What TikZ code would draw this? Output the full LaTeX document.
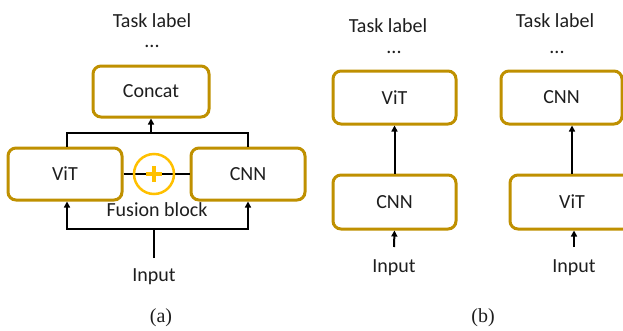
\documentclass[tikz,border=0pt]{standalone}
\usepackage{fontspec}
\newfontfamily\carl{Carlito}
\newfontfamily\capfont{Liberation Serif}
\usetikzlibrary{arrows.meta,calc}
\definecolor{gold}{RGB}{191,144,0}
\definecolor{ylw}{RGB}{255,192,0}
\definecolor{txt}{RGB}{30,30,30}
\begin{document}
\begin{tikzpicture}[x=1pt,y=-1pt,
  blk/.style={draw=gold,line width=3pt,rounded corners=8pt,fill=white,
    inner sep=0pt,text=txt,font=\carl\fontsize{20}{24}\selectfont},
  lbl/.style={anchor=base,inner sep=0pt,text=txt,font=\carl\fontsize{20}{24}\selectfont},
  subcap/.style={inner sep=0pt,text=txt,font=\capfont\fontsize{20}{24}\selectfont},
  conn/.style={line width=2pt,black},
  arr/.style={conn,-{Triangle[length=6pt,width=6pt]}}]
\useasboundingbox (0,0) rectangle (623,330);
\clip (0,0) rectangle (623,330);
% ---------- (a) ----------
\node[lbl] (taskA) at (152,27) {Task label};
\node[lbl] (dotsA) at (152,47) {...};
\node[blk,minimum width=116pt,minimum height=51pt] (concat) at (151,91.5) {Concat};
\node[blk,minimum width=114pt,minimum height=52pt] (vitA) at (65,174) {ViT};
\node[blk,minimum width=114pt,minimum height=52pt] (cnnA) at (248,174) {CNN};
\draw[conn] (vitA.east) -- (cnnA.west);
\node[circle,draw=ylw,line width=2.5pt,minimum size=40pt,inner sep=0pt] (fuse) at (154,174) {};
\fill[ylw] ($(fuse.center)+(-8,-2.3)$) rectangle ($(fuse.center)+(8,2.3)$);
\fill[ylw] ($(fuse.center)+(-2.3,-8)$) rectangle ($(fuse.center)+(2.3,8)$);
\node[lbl] (fusion) at (157,216) {Fusion block};
\node[lbl] (inA) at (154,281) {Input};
\coordinate (vl) at (67,0);
\coordinate (topj) at (151,133);
\coordinate (botj) at (154,229);
\coordinate (inAtop) at (154,258);
\draw[conn] (vitA.north -| vl) |- (topj) -| (cnnA.north);
\draw[arr] (topj) -- (concat.south);
\draw[conn] (inAtop) -- (botj);
\draw[arr] (botj) -| (vitA.south -| vl);
\draw[arr] (botj) -| (cnnA.south);
\node[subcap] (capA) at (161,318) {(a)};
% ---------- (b) left ----------
\node[lbl] (taskB1) at (388,32) {Task label};
\node[lbl] (dotsB1) at (394,53) {...};
\node[blk,minimum width=123pt,minimum height=53pt] (vitB) at (394.5,97.5) {ViT};
\node[blk,minimum width=123pt,minimum height=54pt] (cnnB) at (394.5,202) {CNN};
\draw[arr] (cnnB.north) -- (vitB.south);
\node[lbl] (inB1) at (394,272) {Input};
\coordinate (inB1top) at (394,247);
\draw[arr] (inB1top) -- (cnnB.south);
% ---------- (b) right ----------
\node[lbl] (taskB2) at (555,27) {Task label};
\node[lbl] (dotsB2) at (557,53) {...};
\node[blk,minimum width=121pt,minimum height=53pt] (cnnB2) at (561.5,97.5) {CNN};
\node[blk,minimum width=124pt,minimum height=54pt] (vitB2) at (572,202) {ViT};
\draw[arr] (vitB2.north) -- (cnnB2.south -| vitB2.north);
\node[lbl] (inB2) at (574,272) {Input};
\coordinate (inB2top) at (574,247);
\draw[arr] (inB2top) -- (vitB2.south -| inB2top);
\node[subcap] (capB) at (483,318) {(b)};
\end{tikzpicture}
\end{document}
